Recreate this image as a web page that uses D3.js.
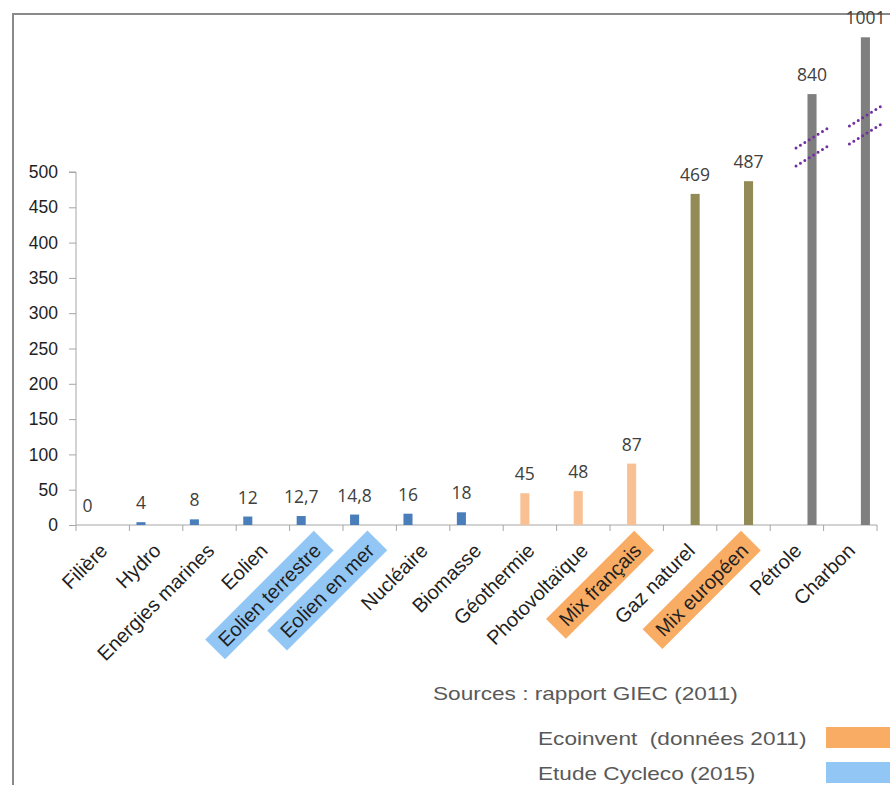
<!DOCTYPE html>
<html lang="fr">
<head>
<meta charset="utf-8">
<script src="https://cdn.jsdelivr.net/npm/d3@7"></script>
<style>
  html, body { margin: 0; padding: 0; background: #ffffff; }
  svg { display: block; }
</style>
</head>
<body>
<svg id="chart" width="890" height="785"></svg>
<script>
// Émissions de CO2 par filière (gCO2/kWh)
const categories = ["Filière", "Hydro", "Energies marines", "Eolien", "Eolien terrestre",
  "Eolien en mer", "Nucléaire", "Biomasse", "Géothermie", "Photovoltaïque",
  "Mix français", "Gaz naturel", "Mix européen", "Pétrole", "Charbon"];
const values = [0, 4, 8, 12, 12.7, 14.8, 16, 18, 45, 48, 87, 469, 487, 840, 1001];
// series slot of each bar inside its category
const seriesOf = [0, 0, 0, 0, 0, 0, 0, 0, 1, 1, 1, 2, 2, 3, 3];
const seriesColors = ["#4a7ebb", "#f9c193", "#938b55", "#7f7f7f"];
// source highlighted behind some category labels
const sourceOf = { "Eolien terrestre": "cycleco", "Eolien en mer": "cycleco",
  "Mix français": "ecoinvent", "Mix européen": "ecoinvent" };
const sourceColors = { ecoinvent: "#f9ac63", cycleco: "#92c7f5" };
const yTicks = [0, 50, 100, 150, 200, 250, 300, 350, 400, 450, 500];
// bars above this value are drawn on a compressed, broken segment
const breakThreshold = 600;
const breakMarks = [{ category: "Pétrole", at: 690 }, { category: "Charbon", at: 752 }];
const legendTitle = "Sources : rapport GIEC (2011)";
const legendItems = [
  { label: "Ecoinvent  (données 2011)", key: "ecoinvent" },
  { label: "Etude Cycleco (2015)", key: "cycleco" }
];

const svg = d3.select("#chart");
const fr = d3.formatLocale({ decimal: ",", thousands: "\u00a0", grouping: [3], currency: ["", " €"] });
const fmt = fr.format("~r");

const left = 76, right = 877, bottom = 525, top500 = 172;

const x0 = d3.scaleBand().domain(categories).range([left, right]).paddingInner(0).paddingOuter(0);
const x1 = d3.scaleBand().domain([0, 1, 2, 3]).range([0, x0.bandwidth()])
  .paddingInner(0.1).paddingOuter(0.7);
const y = d3.scaleLinear().domain([0, 500]).range([bottom, top500]);
const yHigh = d3.scaleLinear().domain([500, 1050]).range([214, 20]);
const yOf = v => (v > breakThreshold ? yHigh(v) : y(v));

// frame
svg.append("path")
  .attr("d", "M13,785 L13,14 L890,14")
  .attr("fill", "none").attr("stroke", "#8a8a8a").attr("stroke-width", 2);

// y axis
const yAxis = svg.append("g")
  .attr("transform", `translate(${left},0)`)
  .call(d3.axisLeft(y).tickValues(yTicks).tickSize(7).tickPadding(11).tickFormat(d3.format("d")));
yAxis.select(".domain").attr("stroke", "#a6a6a6").attr("d", `M-7,${top500}H0V${bottom}`);
yAxis.selectAll(".tick line").attr("stroke", "#a6a6a6");
yAxis.selectAll(".tick text")
  .attr("font-family", "'Liberation Sans', Arial, sans-serif")
  .attr("font-size", 17.5).attr("fill", "#1f1f1f");

// x axis
const xAxis = svg.append("g")
  .attr("transform", `translate(0,${bottom})`)
  .call(d3.axisBottom(x0).tickSize(0).tickFormat(""));
xAxis.select(".domain").attr("stroke", "#a6a6a6").attr("d", `M${left},0H${right}`);
xAxis.selectAll(".tick").remove();
xAxis.selectAll(".sep")
  .data(categories.concat([null]))
  .join("line")
  .attr("class", "sep")
  .attr("x1", (d, i) => left + i * x0.step())
  .attr("x2", (d, i) => left + i * x0.step())
  .attr("y1", 0).attr("y2", 6)
  .attr("stroke", "#a6a6a6");

// bars
const bars = categories.map((c, i) => ({ c, v: values[i], s: seriesOf[i] }));
svg.append("g").selectAll("rect")
  .data(bars.filter(d => d.v > 0))
  .join("rect")
  .attr("x", d => x0(d.c) + x1(d.s))
  .attr("width", x1.bandwidth())
  .attr("y", d => yOf(d.v))
  .attr("height", d => bottom - yOf(d.v))
  .attr("fill", d => seriesColors[d.s]);

// value labels
svg.append("g").selectAll("text")
  .data(bars)
  .join("text")
  .attr("x", d => x0(d.c) + x1(d.s) + x1.bandwidth() / 2)
  .attr("y", d => yOf(d.v) - 13)
  .attr("text-anchor", "middle")
  .attr("font-family", "'Open Sans', sans-serif")
  .attr("font-size", 17.5)
  .attr("fill", "#404040")
  .text(d => fmt(d.v));

// break marks on the compressed bars
const bm = svg.append("g");
breakMarks.forEach(b => {
  const i = categories.indexOf(b.category);
  const cx = x0(b.category) + x1(seriesOf[i]) + x1.bandwidth() / 2;
  const cy = yHigh(b.at);
  [-9, 9].forEach(off => {
    bm.append("line")
      .attr("x1", cx - 16).attr("y1", cy + off + 10)
      .attr("x2", cx + 16).attr("y2", cy + off - 10)
      .attr("stroke", "#7030a0")
      .attr("stroke-width", 3)
      .attr("stroke-linecap", "round")
      .attr("stroke-dasharray", "0 5.2");
  });
});

// category labels, rotated, some on a source-coloured box
const lab = svg.append("g").selectAll("g")
  .data(categories)
  .join("g")
  .attr("transform", d => `translate(${x0(d) + x0.bandwidth() / 2 + 6},${552}) rotate(-45)`);
lab.append("text")
  .attr("text-anchor", "end")
  .attr("font-family", "'Liberation Sans', Arial, sans-serif")
  .attr("font-size", 20)
  .attr("fill", "#1f1f1f")
  .text(d => d);
lab.each(function (d) {
  const src = sourceOf[d];
  if (!src) return;
  const g = d3.select(this);
  const bb = g.select("text").node().getBBox();
  g.insert("rect", "text")
    .attr("x", bb.x - 9).attr("y", bb.y - 3)
    .attr("width", bb.width + 18).attr("height", bb.height + 6)
    .attr("fill", sourceColors[src]);
});

// legend (text set slightly wide)
const legendFont = "'Liberation Sans', Arial, sans-serif";
svg.append("text")
  .attr("transform", "translate(433,700) scale(1.19,1)")
  .attr("font-family", legendFont)
  .attr("font-size", 19).attr("fill", "#595959")
  .text(legendTitle);
const lg = svg.append("g").selectAll("g")
  .data(legendItems)
  .join("g")
  .attr("transform", (d, i) => `translate(0,${745 + i * 35})`);
lg.append("text")
  .attr("transform", "translate(538,0) scale(1.19,1)")
  .attr("font-family", legendFont)
  .attr("font-size", 19).attr("fill", "#595959")
  .style("white-space", "pre")
  .text(d => d.label);
lg.append("rect")
  .attr("x", 826).attr("y", -18)
  .attr("width", 70).attr("height", 21)
  .attr("fill", d => sourceColors[d.key]);
</script>
</body>
</html>
